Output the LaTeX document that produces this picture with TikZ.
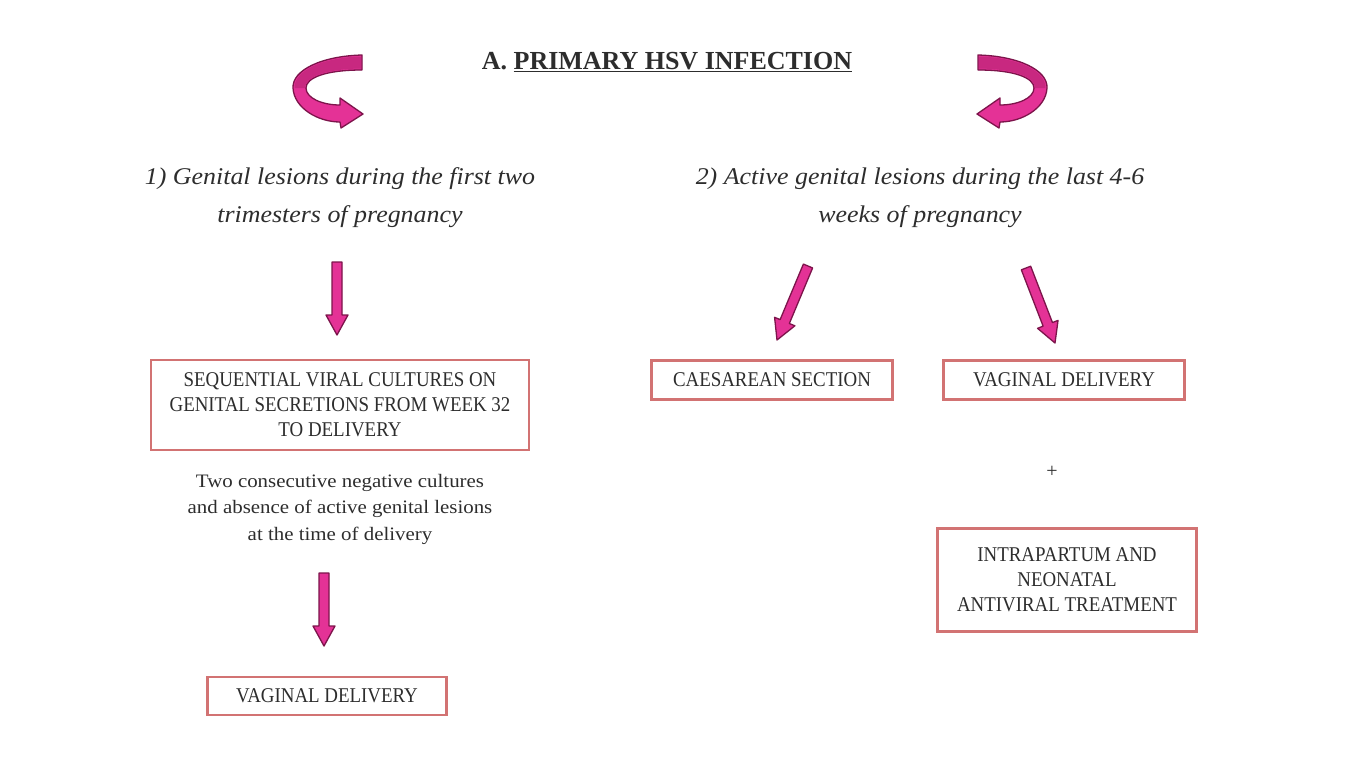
\documentclass[tikz,border=0pt]{standalone}
\usepackage{fontspec}
\setmainfont{Liberation Serif}
\newfontfamily\boxfont[FakeStretch=0.9]{Liberation Serif}
\newfontfamily\hdfont[FakeStretch=1.08]{Liberation Serif}
\newfontfamily\bodyfont[FakeStretch=1.1]{Liberation Serif}
\usetikzlibrary{calc}
\definecolor{txt}{RGB}{45,45,45}
\definecolor{boxline}{RGB}{210,115,115}
\definecolor{amag}{RGB}{228,50,150}
\definecolor{amagd}{RGB}{200,40,128}
\definecolor{adark}{RGB}{125,20,75}
\tikzset{
  hd/.style={inner sep=0pt, align=center, text=txt, font=\hdfont\itshape\fontsize{24}{38}\selectfont},
  body/.style={inner sep=0pt, align=center, text=txt, font=\bodyfont\fontsize{19}{26.5}\selectfont},
  bx/.style={draw=boxline, line width=2.2pt, fill=white, align=center, text=txt, inner sep=0pt,
    font=\boxfont\fontsize{21}{25}\selectfont},
  barrow/.style={draw=adark, fill=amag, line width=1.3pt, line join=round},
  curl/.style={draw=adark, fill=amag, line width=1.3pt, line join=round}
}
\newcommand\blockarrow[2]{%
  \draw[barrow] let \p1=(#1), \p2=(#2), \n1={atan2(\y2-\y1,\x2-\x1)} in
    ($(#1)+(\n1+90:5pt)$) -- ($(#2)+(\n1+180:20pt)+(\n1+90:5pt)$)
    -- ($(#2)+(\n1+180:20pt)+(\n1+90:11pt)$) -- (#2)
    -- ($(#2)+(\n1+180:20pt)+(\n1-90:11pt)$) -- ($(#2)+(\n1+180:20pt)+(\n1-90:5pt)$)
    -- ($(#1)+(\n1-90:5pt)$) -- cycle;}
\newcommand\curlyshape{%
  \draw[curl] (362,55) .. controls (322,56) and (292,70) .. (293,88)
    .. controls (294,108) and (318,122) .. (340,122) -- (341,128) -- (363,114) -- (340,98)
    -- (340,105) .. controls (322,105) and (306,98) .. (306,88)
    .. controls (306,78) and (325,70) .. (362,70) -- cycle;
  \fill[amagd] (361,56.5) .. controls (322,57.5) and (294,71) .. (294.5,88)
    -- (305,88) .. controls (305,77) and (325,69) .. (361,68.5) -- cycle;}
\begin{document}
\begin{tikzpicture}[x=1pt,y=-1pt]
\useasboundingbox[fill=white] (0,0) rectangle (1350,764);

% title
\node[inner sep=0pt, text=txt, font=\bfseries\fontsize{26}{30}\selectfont] (title) at (667,62)
  {A. \underline{PRIMARY HSV INFECTION}};

% curly arrows
\curlyshape
\begin{scope}[shift={(1340,0)}, xscale=-1]
  \curlyshape
\end{scope}

% headings
\node[hd] (h1) at (340,198) {1) Genital lesions during the first two\\trimesters of pregnancy};
\node[hd] (h2) at (920,198) {2) Active genital lesions during the last 4-6\\weeks of pregnancy};

% left column
\node[bx, minimum width=378, minimum height=90] (b1) at (340,405)
  {SEQUENTIAL VIRAL CULTURES ON\\GENITAL SECRETIONS FROM WEEK 32\\TO DELIVERY};
\node[body] (n1) at (340,509) {Two consecutive negative cultures\\and absence of active genital lesions\\at the time of delivery};
\node[bx, minimum width=239, minimum height=38] (b2) at (327,696) {VAGINAL DELIVERY};

% right column
\node[bx, minimum width=241, minimum height=39] (cs) at (772,380) {CAESAREAN SECTION};
\node[bx, minimum width=241, minimum height=39] (vd) at (1064,380) {VAGINAL DELIVERY};
\node[inner sep=0pt, text=txt, font=\fontsize{20}{24}\selectfont] (plus) at (1052,472) {+};
\node[bx, minimum width=259, minimum height=103] (it) at (1067,580)
  {INTRAPARTUM AND\\NEONATAL\\ANTIVIRAL TREATMENT};

% block arrows
\coordinate (a1s) at (337,262); \coordinate (a1e) at (337,335);
\coordinate (a2s) at (324,573); \coordinate (a2e) at (324,646);
\coordinate (a3s) at (808,266); \coordinate (a3e) at (777,340);
\coordinate (a4s) at (1026,268); \coordinate (a4e) at (1055,343);
\blockarrow{a1s}{a1e}
\blockarrow{a2s}{a2e}
\blockarrow{a3s}{a3e}
\blockarrow{a4s}{a4e}
\end{tikzpicture}
\end{document}
